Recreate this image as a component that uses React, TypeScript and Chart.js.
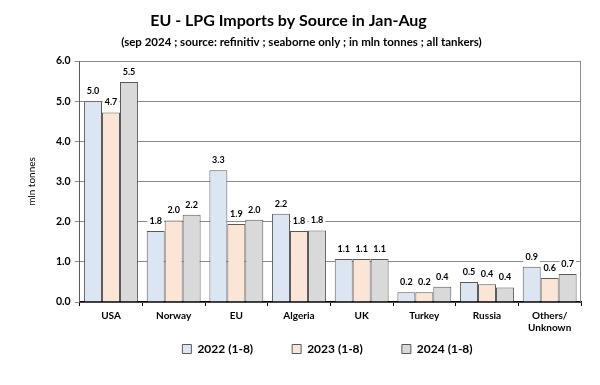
import React, { useEffect, useRef } from "react";
import { Chart, registerables } from "chart.js";

Chart.register(...registerables);

const categories: (string | string[])[] = ["USA", "Norway", "EU", "Algeria", "UK", "Turkey", "Russia", ["Others/", "Unknown"]];
const series2022 = [5.0, 1.77, 3.28, 2.2, 1.07, 0.24, 0.5, 0.88];
const series2023 = [4.72, 2.03, 1.94, 1.77, 1.07, 0.24, 0.44, 0.6];
const series2024 = [5.48, 2.17, 2.05, 1.78, 1.07, 0.38, 0.36, 0.7];
const seriesLabels = ["2022 (1-8)", "2023 (1-8)", "2024 (1-8)"];
const yTicks = [0, 1, 2, 3, 4, 5, 6];

const FONT = "Lato, 'Open Sans', sans-serif";
const LEGEND_PAD = 39;
const LEGEND_RESERVED = 22;
const LEGEND_GAP = 5;
const LEGEND_SHIFT = 26;

const frame = {
  id: "frame",
  beforeDatasetsDraw(chart: any) {
    const { ctx, chartArea } = chart;
    ctx.save();
    ctx.strokeStyle = "#8c8c8c";
    ctx.lineWidth = 1;
    ctx.beginPath();
    ctx.moveTo(chartArea.left, chartArea.top + 0.5);
    ctx.lineTo(chartArea.right - 0.5, chartArea.top + 0.5);
    ctx.lineTo(chartArea.right - 0.5, chartArea.bottom);
    ctx.stroke();
    ctx.restore();
  },
};

const layoutTweaks = {
  id: "layoutTweaks",
  afterInit(chart: any) {
    const lg = chart.legend;
    if (lg) {
      const orig = lg.fit.bind(lg);
      lg.fit = () => {
        orig();
        lg.height = LEGEND_RESERVED;
      };
    }
  },
  afterLayout(chart: any) {
    const lg = chart.legend;
    const xs = chart.scales.x;
    if (lg && xs) {
      lg.top = xs.bottom + LEGEND_GAP - LEGEND_PAD;
      lg.bottom = lg.top + LEGEND_PAD + 20;
      lg.left += LEGEND_SHIFT;
      lg.right += LEGEND_SHIFT;
    }
    const tb = chart.titleBlock;
    if (tb) {
      tb.right -= 26;
    }
  },
};

const valueLabels = {
  id: "valueLabels",
  afterDatasetsDraw(chart: any) {
    const { ctx } = chart;
    ctx.save();
    ctx.font = `bold 9px ${FONT}`;
    ctx.textAlign = "center";
    ctx.textBaseline = "middle";
    chart.data.datasets.forEach((ds: any, i: number) => {
      const meta = chart.getDatasetMeta(i);
      meta.data.forEach((bar: any, j: number) => {
        const txt = Number(ds.data[j]).toFixed(1);
        const w = ctx.measureText(txt).width + 4;
        const y = bar.y - 10;
        ctx.fillStyle = "#ffffff";
        ctx.fillRect(bar.x - w / 2, y - 6, w, 12);
        ctx.fillStyle = "#000000";
        ctx.fillText(txt, bar.x, y);
      });
    });
    ctx.restore();
  },
};

export default function App() {
  const ref = useRef<HTMLCanvasElement>(null);
  useEffect(() => {
    document.body.style.margin = "0";
    const chart = new Chart(ref.current!, {
      type: "bar",
      data: {
        labels: categories,
        datasets: [
          { label: seriesLabels[0], data: series2022, backgroundColor: "#dce6f2", borderColor: "#595959", borderWidth: 1 },
          { label: seriesLabels[1], data: series2023, backgroundColor: "#fbe5d6", borderColor: "#595959", borderWidth: 1 },
          { label: seriesLabels[2], data: series2024, backgroundColor: "#d9d9d9", borderColor: "#595959", borderWidth: 1 },
        ],
      },
      options: {
        animation: false,
        responsive: false,
        maintainAspectRatio: false,
        layout: { padding: { left: 22, right: 19, top: 0, bottom: 25 } },
        datasets: { bar: { categoryPercentage: 0.86, barPercentage: 1.0 } },
        plugins: {
          title: {
            display: true,
            text: "EU - LPG Imports by Source in Jan-Aug",
            color: "#000",
            font: { family: FONT, size: 16, weight: "bold" },
            padding: { top: 11, bottom: 3 },
          },
          subtitle: {
            display: true,
            text: "(sep 2024 ; source: refinitiv ; seaborne only ; in mln tonnes ; all tankers)",
            color: "#000",
            font: { family: FONT, size: 11.5, weight: "bold" },
            padding: { top: 2, bottom: 12 },
          },
          legend: {
            position: "bottom",
            labels: {
              color: "#000",
              font: { family: FONT, size: 12, weight: "bold" },
              boxWidth: 9,
              boxHeight: 9,
              padding: LEGEND_PAD,
              useBorderRadius: false,
            },
          },
          tooltip: { enabled: false },
        },
        scales: {
          x: {
            grid: { display: true, drawOnChartArea: false, tickLength: 4, color: "#000" },
            border: { color: "#000", width: 1.5 },
            ticks: { color: "#000", font: { family: FONT, size: 10, weight: "bold" }, maxRotation: 0, autoSkip: false, padding: 4 },
          },
          y: {
            min: 0,
            max: 6,
            afterBuildTicks(scale: any) {
              scale.ticks = yTicks.map((v) => ({ value: v }));
            },
            grid: { color: "#8c8c8c", tickLength: 5 },
            border: { color: "#595959", width: 1 },
            ticks: {
              color: "#000",
              font: { family: FONT, size: 10.5, weight: "bold" },
              padding: 4,
              callback: (v: any) => Number(v).toFixed(1),
            },
            title: {
              display: true,
              text: "mln tonnes",
              color: "#000",
              font: { family: FONT, size: 10 },
              padding: { bottom: 14 },
            },
          },
        },
      },
      plugins: [frame, valueLabels, layoutTweaks],
    } as any);
    return () => chart.destroy();
  }, []);
  return (
    <div style={{ width: 600, height: 385 }}>
      <canvas ref={ref} width={600} height={385} style={{ display: "block" }} />
    </div>
  );
}
